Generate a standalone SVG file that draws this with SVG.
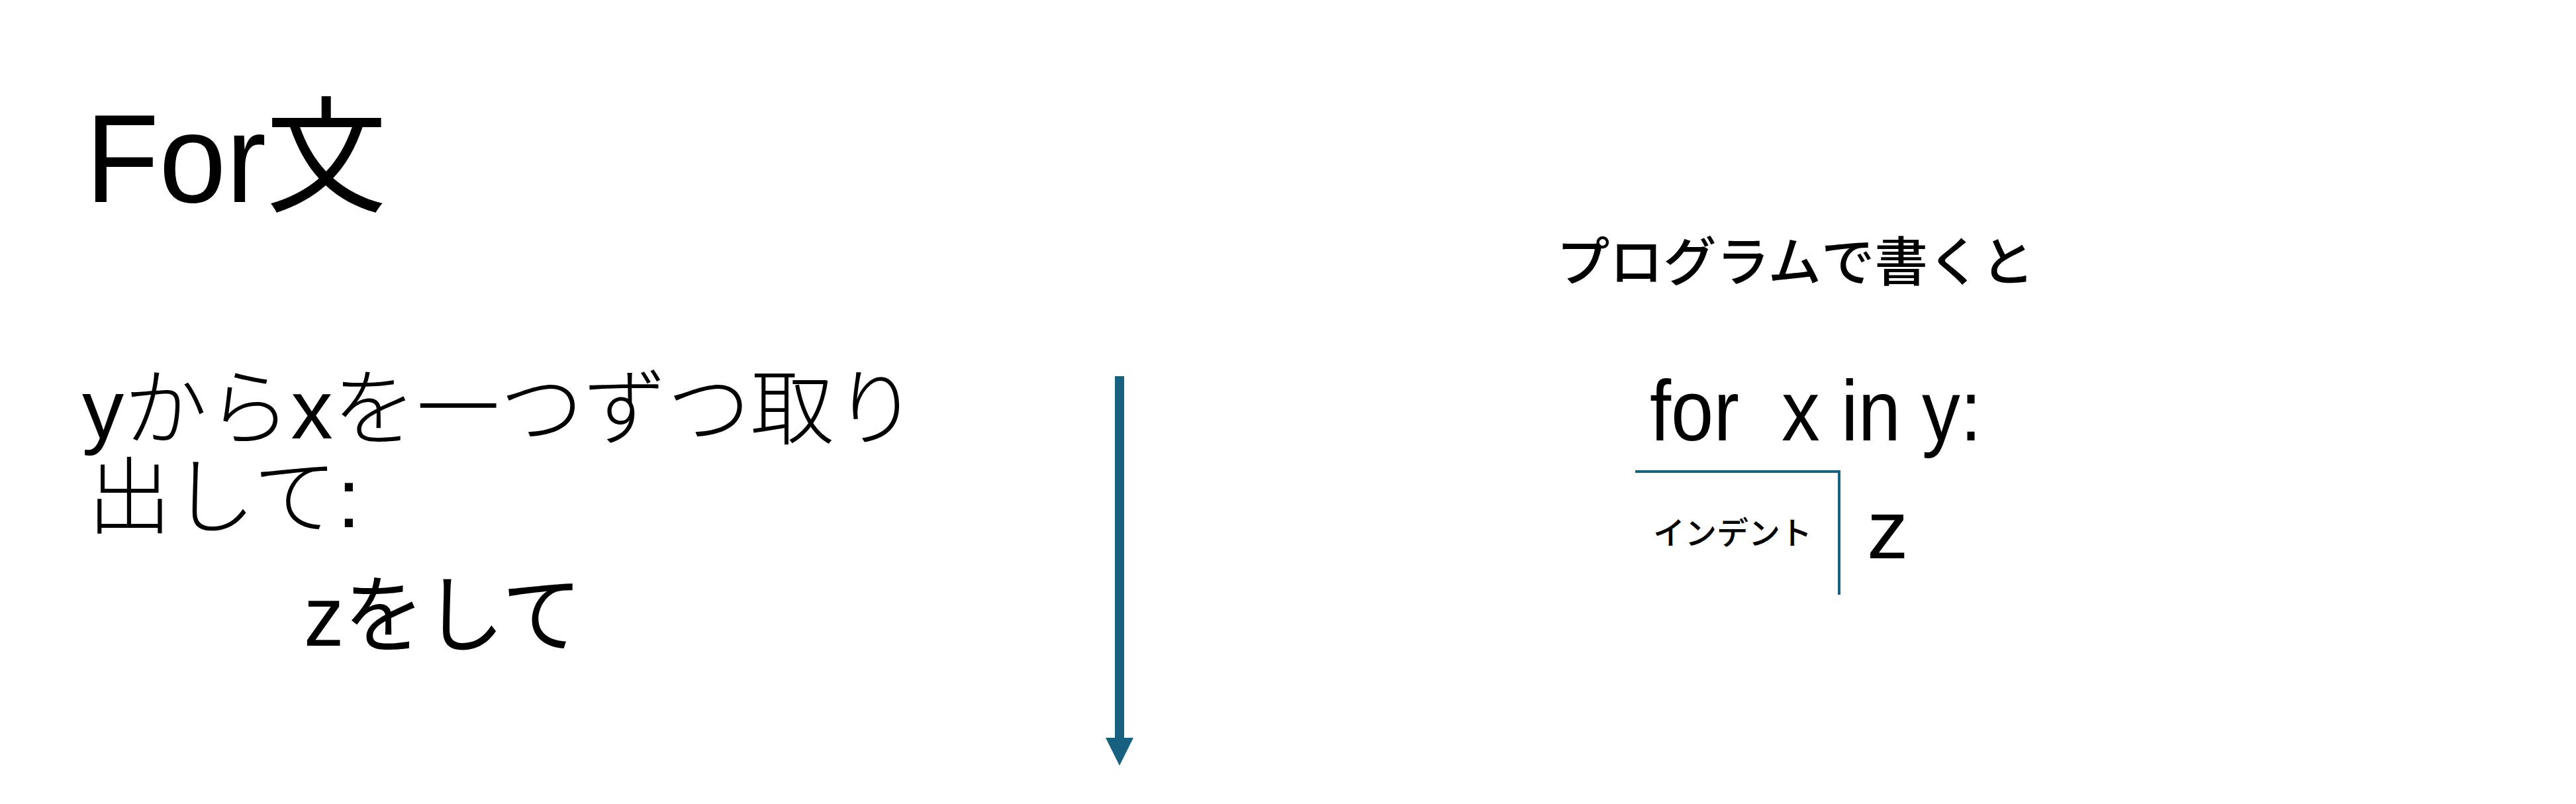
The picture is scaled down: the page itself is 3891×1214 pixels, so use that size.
<svg xmlns="http://www.w3.org/2000/svg" width="3891" height="1214" viewBox="0 0 3891 1214">
<style>
text { font-family: "Liberation Sans", "Noto Sans CJK JP", sans-serif; fill: #000; white-space: pre; }
.thin { font-weight: 300; }
.med { font-weight: 500; }
.conn { stroke: #176080; fill: none; }
</style>
<defs>
<marker id="head" markerWidth="3" markerHeight="3" refX="0" refY="1.5" orient="auto" markerUnits="strokeWidth">
<path d="M0,0 L3,1.5 L0,3 Z" fill="#176080"/>
</marker>
</defs>
<rect width="3891" height="1214" fill="#fff"/>
<g id="title">
<text x="129" y="305" font-size="190" textLength="455" lengthAdjust="spacingAndGlyphs">For文</text>
</g>
<g id="description">
<text class="thin" x="124" y="662" font-size="127" textLength="1262" lengthAdjust="spacingAndGlyphs">yからxを一つずつ取り</text>
<text class="thin" x="132" y="796" font-size="127">出して:</text>
<text x="459" y="975" font-size="128" textLength="420" lengthAdjust="spacingAndGlyphs">zをして</text>
</g>
<g id="connectors">
<line class="conn" x1="1691" y1="568" x2="1691" y2="1114" stroke-width="14" marker-end="url(#head)"/>
<path class="conn" d="M2470,712 L2778,712 L2778,898" stroke-width="4"/>
</g>
<g id="heading">
<text class="med" x="2351" y="424" font-size="80" textLength="722" lengthAdjust="spacingAndGlyphs">プログラムで書くと</text>
</g>
<g id="code">
<text x="2492" y="665" font-size="130" textLength="501" lengthAdjust="spacingAndGlyphs">for  x in y:</text>
</g>
<g id="indent">
<text class="med" x="2497" y="822" font-size="48">インデント</text>
<text x="2820" y="843" font-size="125">z</text>
</g>
</svg>
